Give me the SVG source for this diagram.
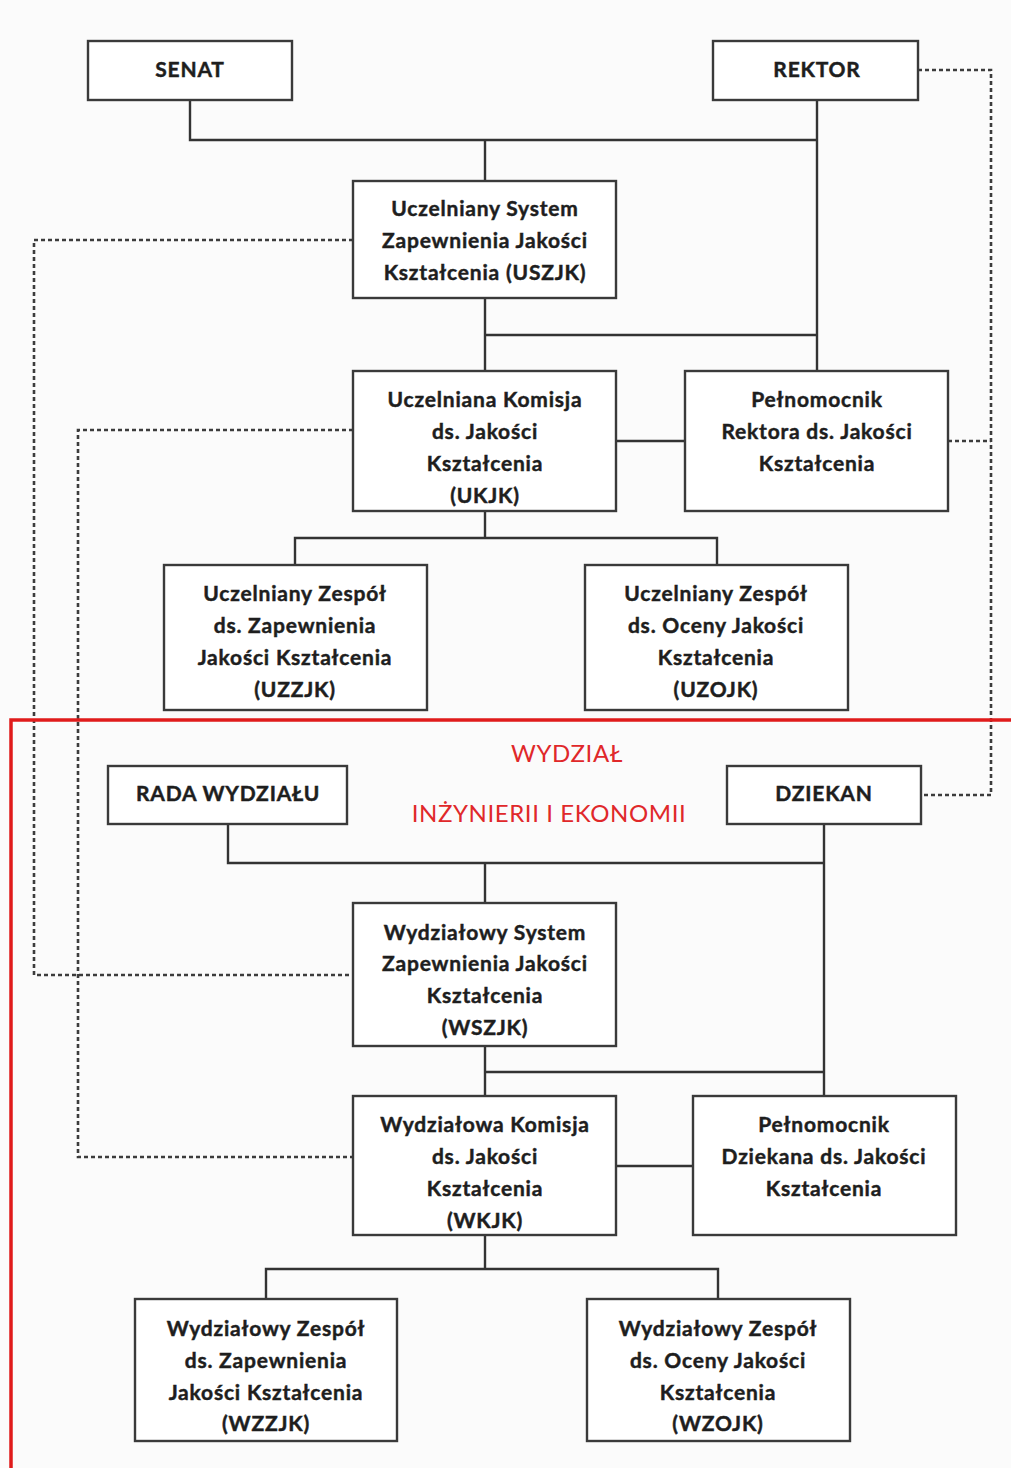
<svg xmlns="http://www.w3.org/2000/svg" width="1011" height="1468" viewBox="0 0 1011 1468">
<style>
.bg{fill:#fbfbfb}
.box{fill:#ffffff;stroke:#3a3a3a;stroke-width:2.4}
.t{font-family:Lato,"Open Sans","Liberation Sans",sans-serif;font-weight:bold;font-size:21px;letter-spacing:0.8px;fill:#1e1e1e;stroke:#1e1e1e;stroke-width:0.45;text-anchor:middle;dominant-baseline:central}
.red{font-family:Lato,"Open Sans","Liberation Sans",sans-serif;font-size:24px;letter-spacing:0.6px;fill:#e0282a;text-anchor:middle;dominant-baseline:central}
.c{fill:none;stroke:#333;stroke-width:2.4}
.d{fill:none;stroke:#3c3c3c;stroke-width:2.6;stroke-dasharray:4 3}
.frame{fill:none;stroke:#e01b1b;stroke-width:3.5}
</style>
<rect class="bg" x="0" y="0" width="1011" height="1468"/>
<g id="connectors">
<path class="c" d="M190 100V140H817M817 100V371M485 140V181M485 298V371M485 335H817M616 441H685M485 511V538M295 565V538H717V565"/>
<path class="c" d="M228 824V863H824M824 824V1096M485 863V903M485 1046V1096M485 1072H824M616 1166H693M485 1235V1269M266 1299V1269H718V1299"/>
<path class="d" d="M918 70H991V795H921M948 441H991"/>
<path class="d" d="M353 240H34V975H353"/>
<path class="d" d="M353 430H78V1157H353"/>
</g>
<path id="faculty-frame" class="frame" d="M1011 720H11V1468"/>
<g id="faculty-label">
<text class="red" x="567" y="752">WYDZIAŁ</text>
<text class="red" x="549" y="812">INŻYNIERII I EKONOMII</text>
</g>
<g id="senat"><rect class="box" x="88" y="41" width="204" height="59"/><text class="t" x="190" y="68">SENAT</text></g>
<g id="rektor"><rect class="box" x="713" y="41" width="205" height="59"/><text class="t" x="817" y="68">REKTOR</text></g>
<g id="uszjk"><rect class="box" x="353" y="181" width="263" height="117"/>
<text class="t" x="485" y="207">Uczelniany System</text><text class="t" x="485" y="239">Zapewnienia Jakości</text><text class="t" x="485" y="271">Kształcenia (USZJK)</text></g>
<g id="ukjk"><rect class="box" x="353" y="371" width="263" height="140"/>
<text class="t" x="485" y="398">Uczelniana Komisja</text><text class="t" x="485" y="430">ds. Jakości</text><text class="t" x="485" y="462">Kształcenia</text><text class="t" x="485" y="494">(UKJK)</text></g>
<g id="pelnomocnik-rektora"><rect class="box" x="685" y="371" width="263" height="140"/>
<text class="t" x="817" y="398">Pełnomocnik</text><text class="t" x="817" y="430">Rektora ds. Jakości</text><text class="t" x="817" y="462">Kształcenia</text></g>
<g id="uzzjk"><rect class="box" x="164" y="565" width="263" height="145"/>
<text class="t" x="295" y="592">Uczelniany Zespół</text><text class="t" x="295" y="624">ds. Zapewnienia</text><text class="t" x="295" y="656">Jakości Kształcenia</text><text class="t" x="295" y="688">(UZZJK)</text></g>
<g id="uzojk"><rect class="box" x="585" y="565" width="263" height="145"/>
<text class="t" x="716" y="592">Uczelniany Zespół</text><text class="t" x="716" y="624">ds. Oceny Jakości</text><text class="t" x="716" y="656">Kształcenia</text><text class="t" x="716" y="688">(UZOJK)</text></g>
<g id="rada-wydzialu"><rect class="box" x="108" y="766" width="239" height="58"/><text class="t" x="228" y="792">RADA WYDZIAŁU</text></g>
<g id="dziekan"><rect class="box" x="727" y="766" width="194" height="58"/><text class="t" x="824" y="792">DZIEKAN</text></g>
<g id="wszjk"><rect class="box" x="353" y="903" width="263" height="143"/>
<text class="t" x="485" y="931">Wydziałowy System</text><text class="t" x="485" y="962">Zapewnienia Jakości</text><text class="t" x="485" y="994">Kształcenia</text><text class="t" x="485" y="1026">(WSZJK)</text></g>
<g id="wkjk"><rect class="box" x="353" y="1096" width="263" height="139"/>
<text class="t" x="485" y="1123">Wydziałowa Komisja</text><text class="t" x="485" y="1155">ds. Jakości</text><text class="t" x="485" y="1187">Kształcenia</text><text class="t" x="485" y="1219">(WKJK)</text></g>
<g id="pelnomocnik-dziekana"><rect class="box" x="693" y="1096" width="263" height="139"/>
<text class="t" x="824" y="1123">Pełnomocnik</text><text class="t" x="824" y="1155">Dziekana ds. Jakości</text><text class="t" x="824" y="1187">Kształcenia</text></g>
<g id="wzzjk"><rect class="box" x="135" y="1299" width="262" height="142"/>
<text class="t" x="266" y="1327">Wydziałowy Zespół</text><text class="t" x="266" y="1359">ds. Zapewnienia</text><text class="t" x="266" y="1391">Jakości Kształcenia</text><text class="t" x="266" y="1422">(WZZJK)</text></g>
<g id="wzojk"><rect class="box" x="587" y="1299" width="263" height="142"/>
<text class="t" x="718" y="1327">Wydziałowy Zespół</text><text class="t" x="718" y="1359">ds. Oceny Jakości</text><text class="t" x="718" y="1391">Kształcenia</text><text class="t" x="718" y="1422">(WZOJK)</text></g>
</svg>
